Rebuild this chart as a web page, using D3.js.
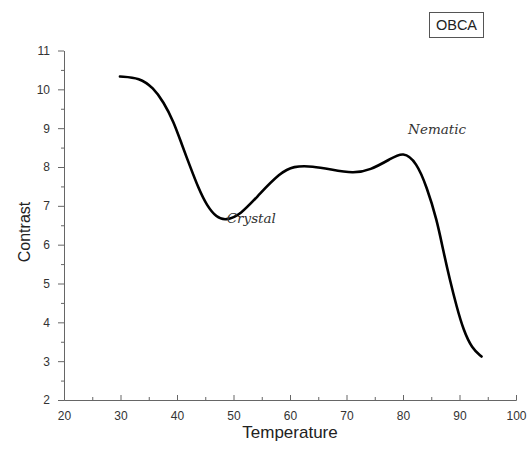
<!DOCTYPE html>
<html>
<head>
<meta charset="utf-8">
<script src="https://cdn.jsdelivr.net/npm/d3@7"></script>
<style>
    body { margin: 0; background: #fff; }
    .axis path, .axis line { stroke: #666; }
    .axis text { fill: #333; font-family: "Liberation Sans", Arial, sans-serif; font-size: 12px; }
</style>
</head>
<body>
<div class="chart"></div>
<script>
var temperature = [29.9, 33.4, 35.8, 37.6, 39.4, 40.8, 42.3, 43.8, 45.3, 47.0, 48.6, 51.2, 54.7, 58.2, 60.6, 64.1, 67.1, 71.2, 74.2, 77.7, 80.05, 82.4, 84.2, 86.0, 87.1, 88.3, 89.5, 90.7, 92.2, 93.9];
var contrast = [10.33, 10.30, 10.04, 9.68, 9.17, 8.60, 8.02, 7.45, 7.00, 6.70, 6.62, 6.76, 7.32, 7.84, 8.03, 8.02, 7.94, 7.83, 7.92, 8.20, 8.40, 8.12, 7.49, 6.64, 5.86, 5.09, 4.40, 3.80, 3.33, 3.12];
var xTicks = [20, 30, 40, 50, 60, 70, 80, 90, 100];
var yTicks = [2, 3, 4, 5, 6, 7, 8, 9, 10, 11];
var notes = [
    { text: "Crystal", t: 48.8, v: 6.56 },
    { text: "Nematic", t: 80.9, v: 8.85 }
];
var legendText = "OBCA";

var W = 529, H = 450;
var margin = { top: 50.5, right: 13, bottom: 50, left: 64 };
var width = W - margin.left - margin.right, height = H - margin.top - margin.bottom;

var x = d3.scaleLinear().domain([20, 100]).range([0, width]);
var y = d3.scaleLinear().domain([2, 11]).range([height, 0]);

var svg = d3.select(".chart")
    .append("svg")
    .attr("width", W)
    .attr("height", H)
    .append("g")
    .attr("transform", "translate(" + margin.left + "," + margin.top + ")");

// minor ticks first, majors on top
svg.append("g").attr("class", "axis")
    .attr("transform", "translate(0," + height + ")")
    .call(d3.axisBottom(x).tickValues(d3.range(25, 100, 10)).tickSizeInner(-3).tickSizeOuter(0).tickFormat(""));
svg.append("g").attr("class", "axis")
    .attr("transform", "translate(0," + height + ")")
    .call(d3.axisBottom(x).tickValues(xTicks).tickSizeInner(-5).tickSizeOuter(0).tickPadding(11));

svg.append("g").attr("class", "axis")
    .call(d3.axisLeft(y).tickValues(d3.range(2.5, 11, 1)).tickSizeInner(3).tickSizeOuter(0).tickFormat(""));
svg.append("g").attr("class", "axis")
    .call(d3.axisLeft(y).tickValues(yTicks).tickSizeInner(6).tickSizeOuter(0).tickPadding(8));

// axis titles
svg.append("text")
    .attr("x", width / 2)
    .attr("y", height + 38)
    .attr("text-anchor", "middle")
    .style("font-family", "Liberation Sans, Arial, sans-serif")
    .style("font-size", "17px")
    .attr("fill", "#222")
    .text("Temperature");

svg.append("text")
    .attr("transform", "translate(" + (30 - margin.left) + "," + (232 - margin.top) + ") rotate(-90)")
    .attr("text-anchor", "middle")
    .style("font-family", "Liberation Sans, Arial, sans-serif")
    .style("font-size", "16px")
    .attr("fill", "#222")
    .text("Contrast");

// curve, smoothed like the original
var line = d3.line()
    .x(function (d) { return x(d[0]); })
    .y(function (d) { return y(d[1]); })
    .curve(d3.curveBasis);

svg.append("path")
    .attr("d", line(d3.zip(temperature, contrast)))
    .attr("fill", "none")
    .attr("stroke", "#000")
    .attr("stroke-width", 2.6)
    .attr("stroke-linecap", "round");

// phase labels
svg.selectAll(".note")
    .data(notes)
    .enter().append("text")
    .attr("class", "note")
    .attr("x", function (d) { return x(d.t); })
    .attr("y", function (d) { return y(d.v); })
    .style("font-family", "DejaVu Serif, serif")
    .style("font-style", "italic")
    .style("font-size", "13.5px")
    .attr("fill", "#333")
    .text(function (d) { return d.text; });

// legend box
var lg = svg.append("g").attr("transform", "translate(" + (429.5 - margin.left) + "," + (12.5 - margin.top) + ")");
lg.append("rect")
    .attr("width", 54)
    .attr("height", 25)
    .attr("fill", "#fff")
    .attr("stroke", "#555");
lg.append("text")
    .attr("x", 27)
    .attr("y", 17.5)
    .attr("text-anchor", "middle")
    .style("font-family", "Liberation Sans, Arial, sans-serif")
    .style("font-size", "14.5px")
    .attr("fill", "#222")
    .text(legendText);
</script>
</body>
</html>
